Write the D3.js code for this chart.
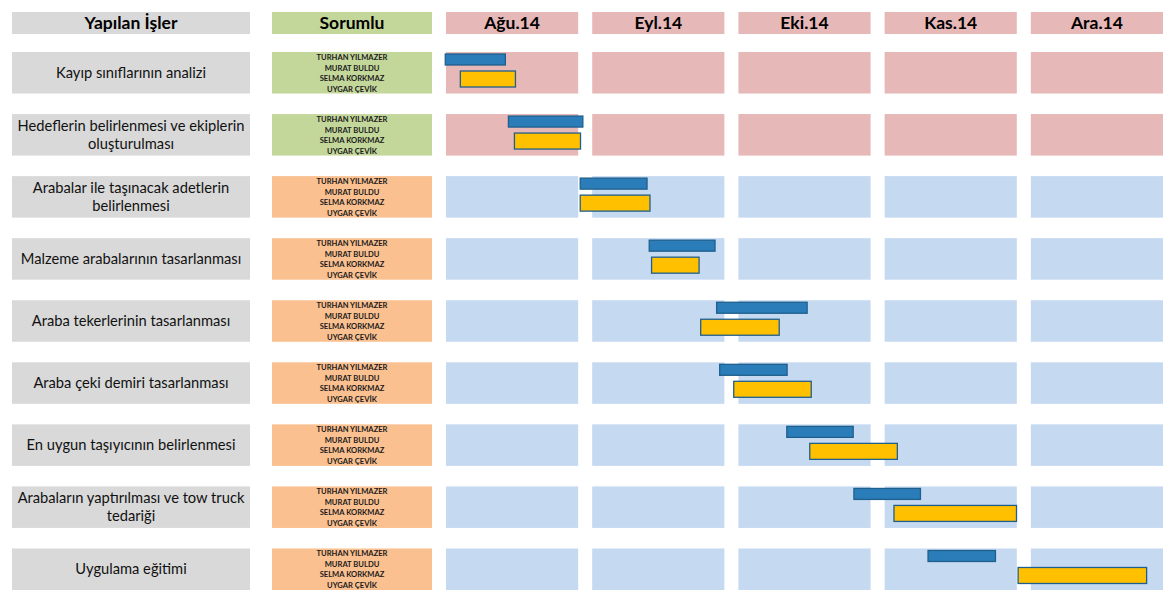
<!DOCTYPE html>
<html><head><meta charset="utf-8">
<script src="https://cdn.jsdelivr.net/npm/d3@7"></script>
<style>body{margin:0;background:#fff}svg{display:block}</style>
</head><body>
<svg id="c" width="1174" height="605"></svg>
<script>
// ---- data ----
const headers = ["Yapılan İşler", "Sorumlu"];
const tasks = [
  "Kayıp sınıflarının analizi",
  "Hedeflerin belirlenmesi ve ekiplerin\noluşturulması",
  "Arabalar ile taşınacak adetlerin\nbelirlenmesi",
  "Malzeme arabalarının tasarlanması",
  "Araba tekerlerinin tasarlanması",
  "Araba çeki demiri tasarlanması",
  "En uygun taşıyıcının belirlenmesi",
  "Arabaların yaptırılması ve tow truck\ntedariği",
  "Uygulama eğitimi"
];
const people = ["TURHAN YILMAZER", "MURAT BULDU", "SELMA KORKMAZ", "UYGAR ÇEVİK"];
const months = ["Ağu.14", "Eyl.14", "Eki.14", "Kas.14", "Ara.14"];
const stage = ["a", "a", "b", "b", "b", "b", "b", "b", "b"];
// start / end in months since 1 Aug 2014
const planStart   = [-0.005, 0.427, 0.918, 1.390, 1.851, 1.872, 2.331, 2.790, 3.297];
const planEnd     = [0.406, 0.936, 1.375, 1.840, 2.470, 2.333, 2.785, 3.245, 3.758];
const actualStart = [0.098, 0.468, 0.918, 1.406, 1.742, 1.968, 2.488, 3.064, 3.913];
const actualEnd   = [0.475, 0.920, 1.395, 1.731, 2.279, 2.498, 3.087, 3.902, 4.792];

// ---- layout ----
const svg = d3.select("#c");
const FONT = "Lato, 'Open Sans', sans-serif";
const taskX = 12, taskW = 238, respX = 272, respW = 160;
const headY = 12, headH = 22;
const colors = {
  task: "#d9d9d9",
  respA: "#c4d79b", respB: "#fac090",
  monA: "#e6b8b7", monB: "#c5d9f1",
  plan: "#2a7db8", actual: "#ffc000", stroke: "#1f5f8d", text: "#111"
};

const idx = tasks.map((d, i) => i);
const y = d3.scaleBand().domain(idx).range([52, 590]).paddingInner(0.331).paddingOuter(0);
const xm = d3.scaleBand().domain(months).range([446, 1163]).paddingInner(0.096);
const xt = d3.scaleLinear().domain([0, months.length])
  .range([xm(months[0]), xm(months[0]) + xm.step() * months.length]);

// header
svg.append("rect").attr("x", taskX).attr("y", headY).attr("width", taskW).attr("height", headH).attr("fill", colors.task);
svg.append("rect").attr("x", respX).attr("y", headY).attr("width", respW).attr("height", headH).attr("fill", colors.respA);
svg.selectAll(".mh").data(months).enter().append("rect")
  .attr("x", d => xm(d)).attr("y", headY).attr("width", xm.bandwidth()).attr("height", headH).attr("fill", colors.monA);
const headTexts = [[taskX + taskW / 2, headers[0]], [respX + respW / 2, headers[1]]]
  .concat(months.map(m => [xm(m) + xm.bandwidth() / 2, m]));
svg.selectAll(".ht").data(headTexts).enter().append("text")
  .attr("x", d => d[0]).attr("y", headY + 17)
  .attr("text-anchor", "middle").attr("font-family", FONT).attr("font-weight", 700)
  .attr("font-size", 17.5).attr("fill", "#000").text(d => d[1]);

// rows
const rows = svg.selectAll(".row").data(idx).enter().append("g").attr("class", "row");
rows.append("rect").attr("x", taskX).attr("y", i => y(i)).attr("width", taskW).attr("height", y.bandwidth()).attr("fill", colors.task);
rows.append("rect").attr("x", respX).attr("y", i => y(i)).attr("width", respW).attr("height", y.bandwidth())
  .attr("fill", i => stage[i] === "a" ? colors.respA : colors.respB);
rows.each(function (i) {
  const g = d3.select(this);
  g.selectAll(".mc").data(months).enter().append("rect")
    .attr("x", m => xm(m)).attr("y", y(i)).attr("width", xm.bandwidth()).attr("height", y.bandwidth())
    .attr("fill", stage[i] === "a" ? colors.monA : colors.monB);
  const lines = tasks[i].split("\n");
  const lh = 18.5;
  const cy = y(i) + y.bandwidth() / 2;
  g.selectAll(".tl").data(lines).enter().append("text")
    .attr("x", taskX + taskW / 2)
    .attr("y", (d, k) => cy + (k - (lines.length - 1) / 2) * lh + 5)
    .attr("text-anchor", "middle").attr("font-family", FONT).attr("font-size", 14.7)
    .attr("fill", colors.text).text(d => d);
  g.selectAll(".pl").data(people).enter().append("text")
    .attr("x", respX + respW / 2)
    .attr("y", (d, k) => cy + (k - 1.5) * 10.5 + 3)
    .attr("text-anchor", "middle").attr("font-family", FONT).attr("font-weight", 700)
    .attr("font-size", 7.6).attr("fill", "#1a1a1a").text(d => d);
});

// bars
svg.selectAll(".plan").data(idx).enter().append("rect")
  .attr("x", i => xt(planStart[i])).attr("y", i => y(i) + 2)
  .attr("width", i => xt(planEnd[i]) - xt(planStart[i])).attr("height", 11)
  .attr("fill", colors.plan).attr("stroke", colors.stroke).attr("stroke-width", 1.3);
svg.selectAll(".actual").data(idx).enter().append("rect")
  .attr("x", i => xt(actualStart[i])).attr("y", i => y(i) + 19)
  .attr("width", i => xt(actualEnd[i]) - xt(actualStart[i])).attr("height", 16)
  .attr("fill", colors.actual).attr("stroke", colors.stroke).attr("stroke-width", 1.3);
</script>
</body></html>
